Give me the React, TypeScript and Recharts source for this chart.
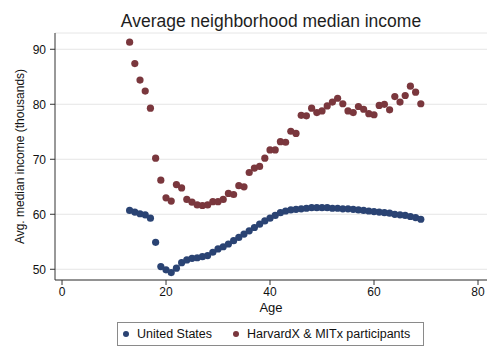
import { ScatterChart, Scatter, XAxis, YAxis, CartesianGrid, Legend, Label } from 'recharts';

const ages = [
  13, 14, 15, 16, 17, 18, 19, 20, 21, 22, 23, 24, 25, 26, 27, 28, 29, 30, 31, 32,
  33, 34, 35, 36, 37, 38, 39, 40, 41, 42, 43, 44, 45, 46, 47, 48, 49, 50, 51, 52,
  53, 54, 55, 56, 57, 58, 59, 60, 61, 62, 63, 64, 65, 66, 67, 68, 69,
];

const usIncome = [
  60.7, 60.4, 60.1, 59.9, 59.3, 54.9, 50.5, 49.9, 49.4, 50.2, 51.2, 51.7, 52.0, 52.1, 52.3, 52.5, 53.1, 53.7, 54.1, 54.6,
  55.2, 55.8, 56.4, 57.0, 57.6, 58.2, 58.8, 59.3, 59.8, 60.3, 60.6, 60.8, 60.9, 61.0, 61.1, 61.2, 61.2, 61.2, 61.2, 61.1,
  61.1, 61.0, 61.0, 60.9, 60.8, 60.7, 60.6, 60.5, 60.4, 60.3, 60.2, 60.0, 59.9, 59.8, 59.6, 59.4, 59.1,
];

const hxIncome = [
  91.3, 87.4, 84.4, 82.4, 79.3, 70.2, 66.2, 63.0, 62.4, 65.4, 64.8, 62.7, 62.2, 61.7, 61.6, 61.7, 62.3, 62.3, 62.7, 63.8,
  63.6, 65.2, 65.0, 67.6, 68.4, 68.7, 70.2, 71.7, 71.7, 73.2, 73.1, 75.1, 74.7, 78.0, 77.9, 79.3, 78.5, 78.8, 79.7, 80.4,
  81.1, 80.1, 78.8, 78.5, 79.6, 79.1, 78.3, 78.1, 79.8, 80.0, 79.0, 81.4, 80.4, 81.6, 83.3, 82.2, 80.1,
];

const xTicks = [0, 20, 40, 60, 80];
const yTicks = [50, 60, 70, 80, 90];

const usPoints = ages.map((a, i) => ({ age: a, income: usIncome[i] }));
const hxPoints = ages.map((a, i) => ({ age: a, income: hxIncome[i] }));

const BLUE = '#2a4373';
const RED = '#7a373d';
const FONT = '"Liberation Sans", Arial, Helvetica, sans-serif';

function LegendBox() {
  const dot = (color: string, ml: number) => (
    <span style={{ flexShrink: 0, width: 6, height: 6, borderRadius: 3, background: color, marginLeft: ml, marginRight: 8 }} />
  );
  return (
    <div
      style={{
        position: 'absolute',
        left: 117,
        top: 322,
        width: 307,
        height: 24,
        border: '1px solid #8a8a8a',
        fontFamily: FONT,
        fontSize: 12.5,
        color: '#111',
        display: 'flex',
        alignItems: 'center',
        whiteSpace: 'nowrap',
        boxSizing: 'border-box',
      }}
    >
      {dot(BLUE, 5)}
      <span>United States</span>
      {dot(RED, 21)}
      <span>HarvardX &amp; MITx participants</span>
    </div>
  );
}

export default function App() {
  return (
    <div style={{ position: 'absolute', left: 0, top: 0, width: 500, height: 363, background: '#fff' }}>
      <div
        style={{
          position: 'absolute',
          left: 0,
          top: 11,
          width: 542,
          textAlign: 'center',
          fontFamily: FONT,
          fontSize: 17.5,
          color: '#1e1e1e',
        }}
      >
        Average neighborhood median income
      </div>
      <ScatterChart width={500} height={363} margin={{ top: 33, right: 13, bottom: 53, left: 0 }}>
        <CartesianGrid horizontal vertical={false} stroke="#e6e6e6" />
        <XAxis
          type="number"
          dataKey="age"
          domain={[-1.35, 81.73]}
          ticks={xTicks}
          allowDataOverflow
          height={30}
          tickSize={5}
          stroke="#333"
          tick={{ fill: '#111', fontSize: 12, fontFamily: FONT }}
        >
          <Label value="Age" position="insideBottom" offset={-2} style={{ fill: '#111', fontSize: 13, fontFamily: FONT }} />
        </XAxis>
        <YAxis
          type="number"
          dataKey="income"
          domain={[48.05, 92.96]}
          ticks={yTicks}
          allowDataOverflow
          width={55}
          tickSize={5}
          tickMargin={4}
          stroke="#333"
          tick={{ fill: '#111', fontSize: 12, fontFamily: FONT }}
        >
          <Label
            value="Avg. median income (thousands)"
            angle={-90}
            position="insideLeft"
            offset={20}
            style={{ textAnchor: 'middle', fill: '#111', fontSize: 12, fontFamily: FONT }}
          />
        </YAxis>
        <Scatter name="United States" data={usPoints} fill={BLUE} shape={(p: any) => <circle cx={p.cx} cy={p.cy} r={3.6} fill={BLUE} />} isAnimationActive={false} />
        <Scatter name="HarvardX & MITx participants" data={hxPoints} fill={RED} shape={(p: any) => <circle cx={p.cx} cy={p.cy} r={3.6} fill={RED} />} isAnimationActive={false} />
        <Legend content={() => null} />
      </ScatterChart>
      <LegendBox />
    </div>
  );
}
